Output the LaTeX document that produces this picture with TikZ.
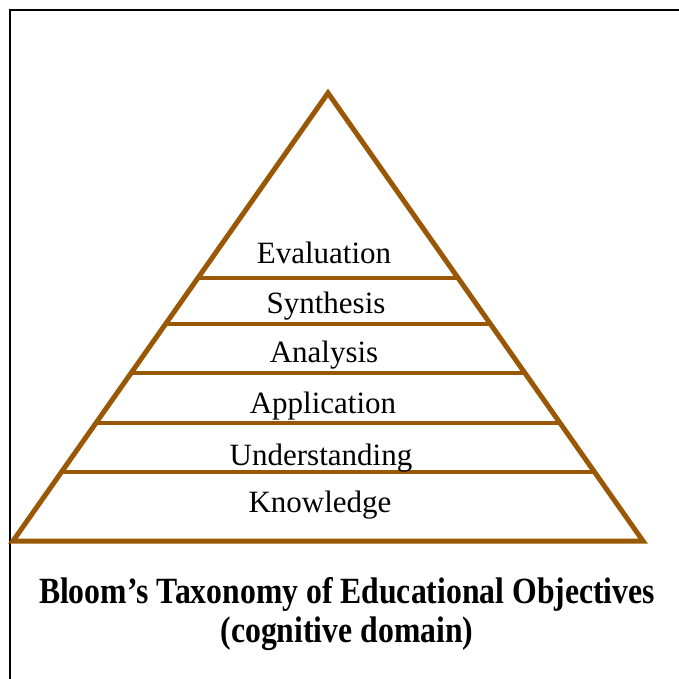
\documentclass[tikz,border=0pt]{standalone}
\usepackage{fontspec}
\setmainfont{Liberation Serif}
\usetikzlibrary{calc}
\definecolor{pyr}{RGB}{153,88,5}
\begin{document}
\begin{tikzpicture}[x=1pt,y=-1pt,
  pyrline/.style={draw=pyr,line width=5pt,line join=miter},
  tierline/.style={draw=pyr,line width=4.5pt},
  lvl/.style={font=\fontsize{31}{36}\selectfont,inner sep=0pt,anchor=base},
  ttl/.style={font=\bfseries\fontsize{37}{40}\selectfont,inner sep=0pt,anchor=base}]
\useasboundingbox (0,0) rectangle (679,679);
\fill[white] (0,0) rectangle (679,679);
\coordinate (fb) at (10,679);
\coordinate (fc) at (10,10);
\coordinate (fr) at (679,10);
\draw[line width=2.5pt] (fb) -- (fc) -- (fr);
\coordinate (apex) at (328,93);
\coordinate (L) at (13,541);
\coordinate (R) at (643,541);
\draw[pyrline] (apex) -- (R) -- (L) -- cycle;
\foreach \t/\n in {0.413/a,0.5156/b,0.625/c,0.7366/d,0.846/e}{
  \coordinate (l\n) at ($(apex)!\t!(L)$);
  \coordinate (r\n) at ($(apex)!\t!(R)$);
  \draw[tierline] (l\n) -- (r\n);
}
\node[lvl] (eva) at (324,263) {Evaluation};
\node[lvl] (syn) at (326,313) {Synthesis};
\node[lvl] (ana) at (324,362) {Analysis};
\node[lvl] (app) at (323,413) {Application};
\node[lvl] (und) at (321,465) {Understanding};
\node[lvl] (kno) at (320,512) {Knowledge};
\node[ttl] (t1) at (347,603) {\scalebox{0.857}[1]{Bloom’s Taxonomy of Educational Objectives}};
\node[ttl] (t2) at (347,642) {\scalebox{0.857}[1]{(cognitive domain)}};
\end{tikzpicture}
\end{document}
